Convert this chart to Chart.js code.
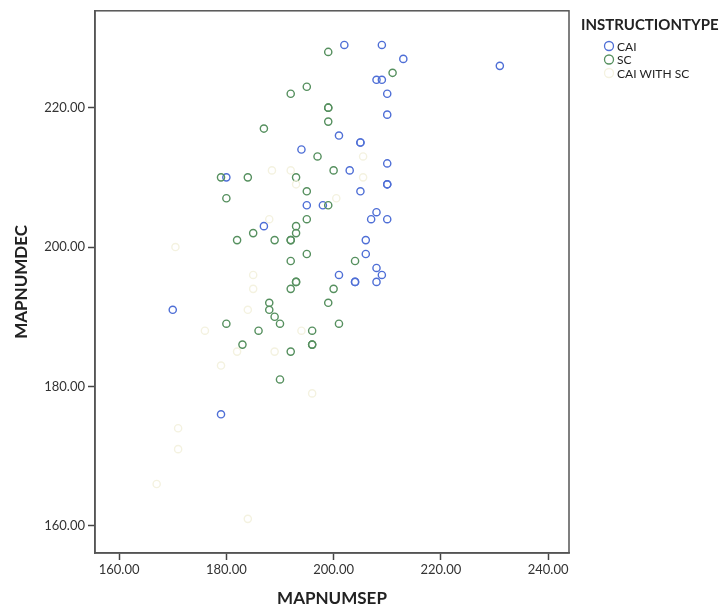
<!DOCTYPE html>
<html>
<head>
<meta charset="utf-8">
<title>MAPNUMDEC by MAPNUMSEP</title>
<script src="https://cdn.jsdelivr.net/npm/chart.js@4"></script>
<style>
  body { margin: 0; background: #fff; }
  canvas { display: block; }
</style>
</head>
<body>
<canvas id="myChart" width="728" height="612"></canvas>
<script>
'use strict';

// *Data* (x = MAPNUMSEP, y = MAPNUMDEC)
let groupNames = ['CAI', 'SC', 'CAI WITH SC'];

let caiSep = [202, 209, 213, 231, 208, 209, 210, 210, 201, 205, 205, 194, 203, 210, 210, 210, 205, 180, 195, 198, 187, 208, 207, 210, 206, 206, 201, 204, 204, 208, 209, 208, 170, 179];
let caiDec = [229, 229, 227, 226, 224, 224, 222, 219, 216, 215, 215, 214, 211, 212, 209, 209, 208, 210, 206, 206, 203, 205, 204, 204, 201, 199, 196, 195, 195, 197, 196, 195, 191, 176];

let scSep = [199, 195, 192, 211, 199, 199, 199, 187, 197, 200, 179, 184, 193, 195, 180, 199, 195, 193, 193, 185, 182, 189, 192, 192, 195, 192, 204, 193, 193, 192, 200, 199, 188, 188, 189, 190, 180, 201, 186, 196, 196, 196, 183, 192, 190];
let scDec = [228, 223, 222, 225, 220, 220, 218, 217, 213, 211, 210, 210, 210, 208, 207, 206, 204, 203, 202, 202, 201, 201, 201, 201, 199, 198, 198, 195, 195, 194, 194, 192, 192, 191, 190, 189, 189, 189, 188, 188, 186, 186, 186, 185, 181];

let mixSep = [170.5, 171, 171, 167, 184, 196, 176, 179, 189, 184, 194, 185, 185, 188, 188.5, 192, 205.5, 205.5, 200.5, 182, 193];
let mixDec = [200, 174, 171, 166, 161, 179, 188, 183, 185, 191, 188, 196, 194, 204, 211, 211, 213, 210, 207, 185, 209];

let xTicks = [160, 180, 200, 220, 240];
let yTicks = [160, 180, 200, 220];

let groupColors = ['#4f6fd6', '#56905f', '#f4f2e0'];

// *Helper Functions*

function toPoints(xs, ys) {
  let pts = [];
  for (let i = 0; i < xs.length; i++) {
    pts.push({ x: xs[i], y: ys[i] });
  }
  return pts;
}

function makeDataset(idx, xs, ys) {
  return {
    label: groupNames[idx],
    data: toPoints(xs, ys),
    borderColor: groupColors[idx],
    backgroundColor: 'rgba(0,0,0,0)',
    pointRadius: 3.6,
    pointBorderWidth: 1.4,
    pointHoverRadius: 3.6
  };
}

// frame on top + right, and the legend on the right side
const framePlugin = {
  id: 'frame',
  afterDraw(chart) {
    const c = chart.ctx;
    const a = chart.chartArea;
    c.save();
    c.strokeStyle = '#555';
    c.lineWidth = 1.5;
    c.strokeRect(a.left, a.top, a.right - a.left, a.bottom - a.top);

    // legend (CAI, SC, CAI WITH SC)
    c.fillStyle = '#222';
    c.font = 'bold 15px Lato';
    c.textBaseline = 'middle';
    c.textAlign = 'left';
    c.fillText('INSTRUCTIONTYPE', 581, 25);
    c.font = '12px Lato';
    for (let i = 0; i < groupNames.length; i++) {
      let y = 46 + i * 13.5;
      c.strokeStyle = groupColors[i];
      c.lineWidth = 1.3;
      c.beginPath();
      c.arc(609, y, 4.5, 0, Math.PI * 2);
      c.stroke();
      c.fillStyle = '#222';
      c.fillText(groupNames[i], 617, y + 1);
    }
    c.restore();
  }
};

const ctx = document.getElementById('myChart');

let myChartObj = {
  type: 'scatter',
  data: {
    datasets: [
      makeDataset(2, mixSep, mixDec),
      makeDataset(1, scSep, scDec),
      makeDataset(0, caiSep, caiDec)
    ]
  },
  options: {
    responsive: false,
    animation: false,
    layout: { padding: { top: 9, right: 159, left: 0, bottom: 0 } },
    plugins: {
      legend: { display: false },
      tooltip: { enabled: false }
    },
    scales: {
      x: {
        type: 'linear',
        min: 155.5,
        max: 243.9,
        afterBuildTicks: axis => { axis.ticks = xTicks.map(v => ({ value: v })); },
        afterFit: axis => { axis.height = 59; },
        grid: { drawOnChartArea: false, tickLength: 7, color: '#444', tickWidth: 1.5 },
        border: { display: true, color: '#555', width: 1.5 },
        ticks: {
          color: '#333',
          font: { family: 'Lato', size: 13 },
          padding: 2,
          maxRotation: 0,
          callback: v => v.toFixed(2)
        },
        title: {
          display: true,
          text: 'MAPNUMSEP',
          color: '#222',
          font: { family: 'Lato', size: 17, weight: 'bold' },
          padding: { top: 0, bottom: 3 }
        }
      },
      y: {
        type: 'linear',
        min: 156.1,
        max: 233.9,
        afterBuildTicks: axis => { axis.ticks = yTicks.map(v => ({ value: v })); },
        afterFit: axis => { axis.width = 95; },
        grid: { drawOnChartArea: false, tickLength: 7, color: '#444', tickWidth: 1.5 },
        border: { display: true, color: '#555', width: 1.5 },
        ticks: {
          color: '#333',
          font: { family: 'Lato', size: 13 },
          padding: 3,
          callback: v => v.toFixed(2)
        },
        title: {
          display: true,
          text: 'MAPNUMDEC',
          color: '#222',
          font: { family: 'Lato', size: 17, weight: 'bold' },
          padding: { top: 11, bottom: 0 }
        }
      }
    }
  },
  plugins: [framePlugin]
};

new Chart(ctx, myChartObj);
</script>
</body>
</html>
